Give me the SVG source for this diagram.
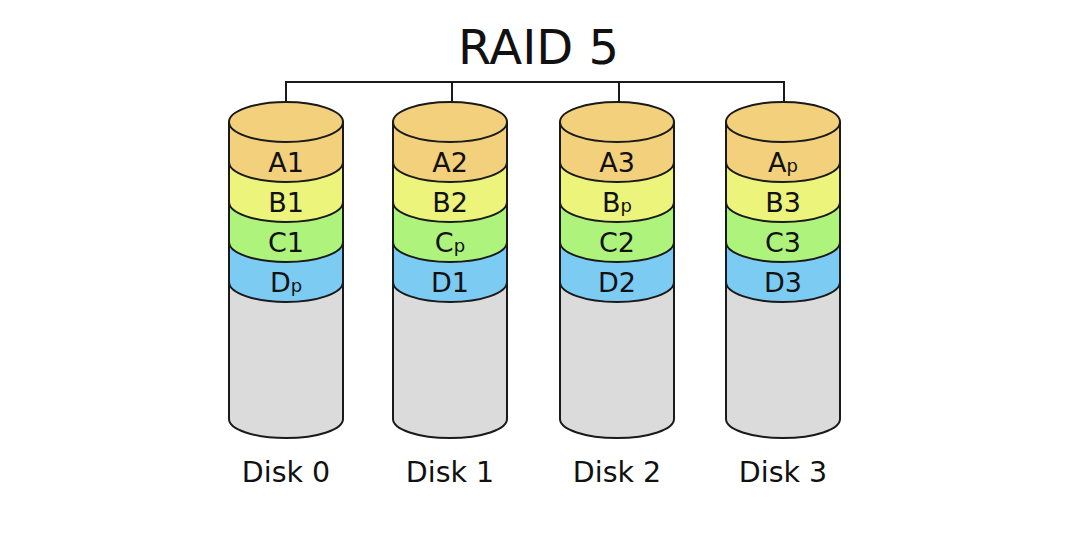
<svg xmlns="http://www.w3.org/2000/svg" width="1070" height="548" viewBox="0 0 1070 548">
<style>
.s{stroke:#1a1a1a;stroke-width:2;stroke-linejoin:round}
.g{fill:#dbdbdb}.a{fill:#f2d07c}.b{fill:#ecf47c}.c{fill:#aef47c}.d{fill:#7ccbf2}
.t{font-family:"DejaVu Sans",sans-serif;font-size:27px;fill:#111;text-anchor:middle}
.dk{font-size:28.5px}
.sub{font-size:18px}
.ln{fill:none;stroke:#1a1a1a;stroke-width:2}
</style>
<defs>
<g id="cyl">
<path class="s g" d="M-57,282 V419 A57 19 0 0 0 57,419 V282 Z"/>
<path class="s d" d="M-57,242 V282 A57 20 0 0 0 57,282 V242 Z"/>
<path class="s c" d="M-57,202 V242 A57 20 0 0 0 57,242 V202 Z"/>
<path class="s b" d="M-57,162 V202 A57 20 0 0 0 57,202 V162 Z"/>
<path class="s a" d="M-57,122 V162 A57 20 0 0 0 57,162 V122 Z"/>
<ellipse class="s a" cx="0" cy="122" rx="57" ry="20"/>
</g>
</defs>
<text class="t" x="538.5" y="64" style="font-size:48px">RAID 5</text>
<g id="connectors">
<path class="ln" d="M286,122 V82 H784 V122 M452,82 V122 M619,82 V122"/>
</g>
<g id="disk0" transform="translate(286,0)">
<use href="#cyl"/>
<text class="t" x="0" y="172">A1</text>
<text class="t" x="0" y="212">B1</text>
<text class="t" x="0" y="252">C1</text>
<text class="t" x="0" y="292">D<tspan class="sub">p</tspan></text>
<text class="t dk" x="0" y="482">Disk 0</text>
</g>
<g id="disk1" transform="translate(450,0)">
<use href="#cyl"/>
<text class="t" x="0" y="172">A2</text>
<text class="t" x="0" y="212">B2</text>
<text class="t" x="0" y="252">C<tspan class="sub">p</tspan></text>
<text class="t" x="0" y="292">D1</text>
<text class="t dk" x="0" y="482">Disk 1</text>
</g>
<g id="disk2" transform="translate(617,0)">
<use href="#cyl"/>
<text class="t" x="0" y="172">A3</text>
<text class="t" x="0" y="212">B<tspan class="sub">p</tspan></text>
<text class="t" x="0" y="252">C2</text>
<text class="t" x="0" y="292">D2</text>
<text class="t dk" x="0" y="482">Disk 2</text>
</g>
<g id="disk3" transform="translate(783,0)">
<use href="#cyl"/>
<text class="t" x="0" y="172">A<tspan class="sub">p</tspan></text>
<text class="t" x="0" y="212">B3</text>
<text class="t" x="0" y="252">C3</text>
<text class="t" x="0" y="292">D3</text>
<text class="t dk" x="0" y="482">Disk 3</text>
</g>
</svg>
